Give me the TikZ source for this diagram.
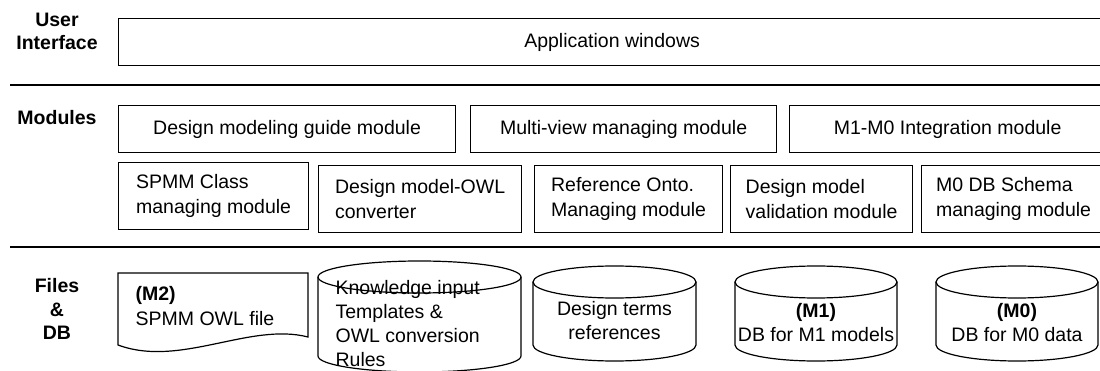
\documentclass[tikz,border=0pt]{standalone}
\usepackage{fontspec}
\setmainfont{Liberation Sans}
\begin{document}
\begin{tikzpicture}[x=1pt, y=-1pt, line width=1.2pt,
    font=\fontsize{19.5}{24.5}\selectfont]
  % Parameters
  \def\leftX{118}
  \def\rightX{1105}
  \def\labelX{57}
  \def\capRy{16}

  % Styles
  \tikzset{
    box/.style={draw, inner sep=0pt, anchor=north west, align=center},
    leftbox/.style={draw, inner sep=0pt, anchor=north west, align=left},
    layer/.style={font=\fontsize{19.5}{23.5}\selectfont\bfseries, align=center},
    sepline/.style={line width=1.7pt},
    txt/.style={inner sep=0pt, align=left},
    % Database drawn as a pic
    dbcyl/.pic={
      \draw (-\cylRx,0) -- (-\cylRx,\cylH)
        arc[start angle=180, end angle=360, x radius=\cylRx pt, y radius=\capRy pt]
        -- (\cylRx,0);
      \draw (0,0) ellipse[x radius=\cylRx pt, y radius=\capRy pt];
    }
  }

  \useasboundingbox (0,0) rectangle (1100,371);

  % Layer labels
  \node[layer] (uiLabel) at (\labelX,31.5) {User\\Interface};
  \node[layer] (modLabel) at (\labelX,118) {Modules};
  \node[layer] (fileLabel) at (\labelX,309) {Files\\\&\\DB};

  % Layer separators
  \draw[sepline] (10,85) -- (1100,85);
  \draw[sepline] (10,247) -- (1100,247);

  % User interface
  \node[box, minimum width=987pt, minimum height=47pt] (appWin) at (\leftX,18) {Application windows};

  % Modules, first row
  \node[box, minimum width=337pt, minimum height=47pt] (guideMod) at (\leftX,105) {Design modeling guide module};
  \node[box, minimum width=306pt, minimum height=47pt] (viewMod) at (470,105) {Multi-view managing module};
  \node[box, minimum width=316pt, minimum height=47pt] (integMod) at (789,105) {M1-M0 Integration module};

  % Modules, second row
  \node[leftbox, minimum width=190pt, minimum height=67pt] (classMod) at (\leftX,162) {SPMM Class\\managing module};
  \node[leftbox, minimum width=203pt, minimum height=67pt] (owlConv) at (318,165) {Design model-OWL\\converter};
  \node[leftbox, minimum width=188pt, minimum height=67pt] (ontoMod) at (534,165) {Reference Onto.\\Managing module};
  \node[leftbox, minimum width=182pt, minimum height=67pt] (validMod) at (730,165) {Design model\\validation module};
  \node[leftbox, minimum width=184pt, minimum height=67pt] (schemaMod) at (921,165) {M0 DB Schema\\managing module};

  % Files & DB
  \draw (\leftX,273) -- (308,273) -- (308,337)
    .. controls (250,322) and (180,368) .. (\leftX,345) -- cycle;
  \node[txt, anchor=west] (owlFile) at (135,306) {\textbf{(M2)}\\SPMM OWL file};

  \def\cylRx{101.5}\def\cylH{79}
  \pic at (419.5,277) {dbcyl};
  \node[txt, anchor=west, font=\fontsize{19.5}{24}\selectfont] (knowDB) at (335,323.5) {Knowledge input\\Templates \&\\OWL conversion\\Rules};

  \def\cylRx{81.5}\def\cylH{63}
  \pic at (614.5,282) {dbcyl};
  \node[txt, align=center] (termDB) at (614.5,320.5) {Design terms\\references};

  \def\cylRx{81}
  \pic at (816,282) {dbcyl};
  \node[txt, align=center] (mOneDB) at (816,322.5) {\textbf{(M1)}\\DB for M1 models};

  \pic at (1017,282) {dbcyl};
  \node[txt, align=center] (mZeroDB) at (1017,322.5) {\textbf{(M0)}\\DB for M0 data};

\end{tikzpicture}
\end{document}
